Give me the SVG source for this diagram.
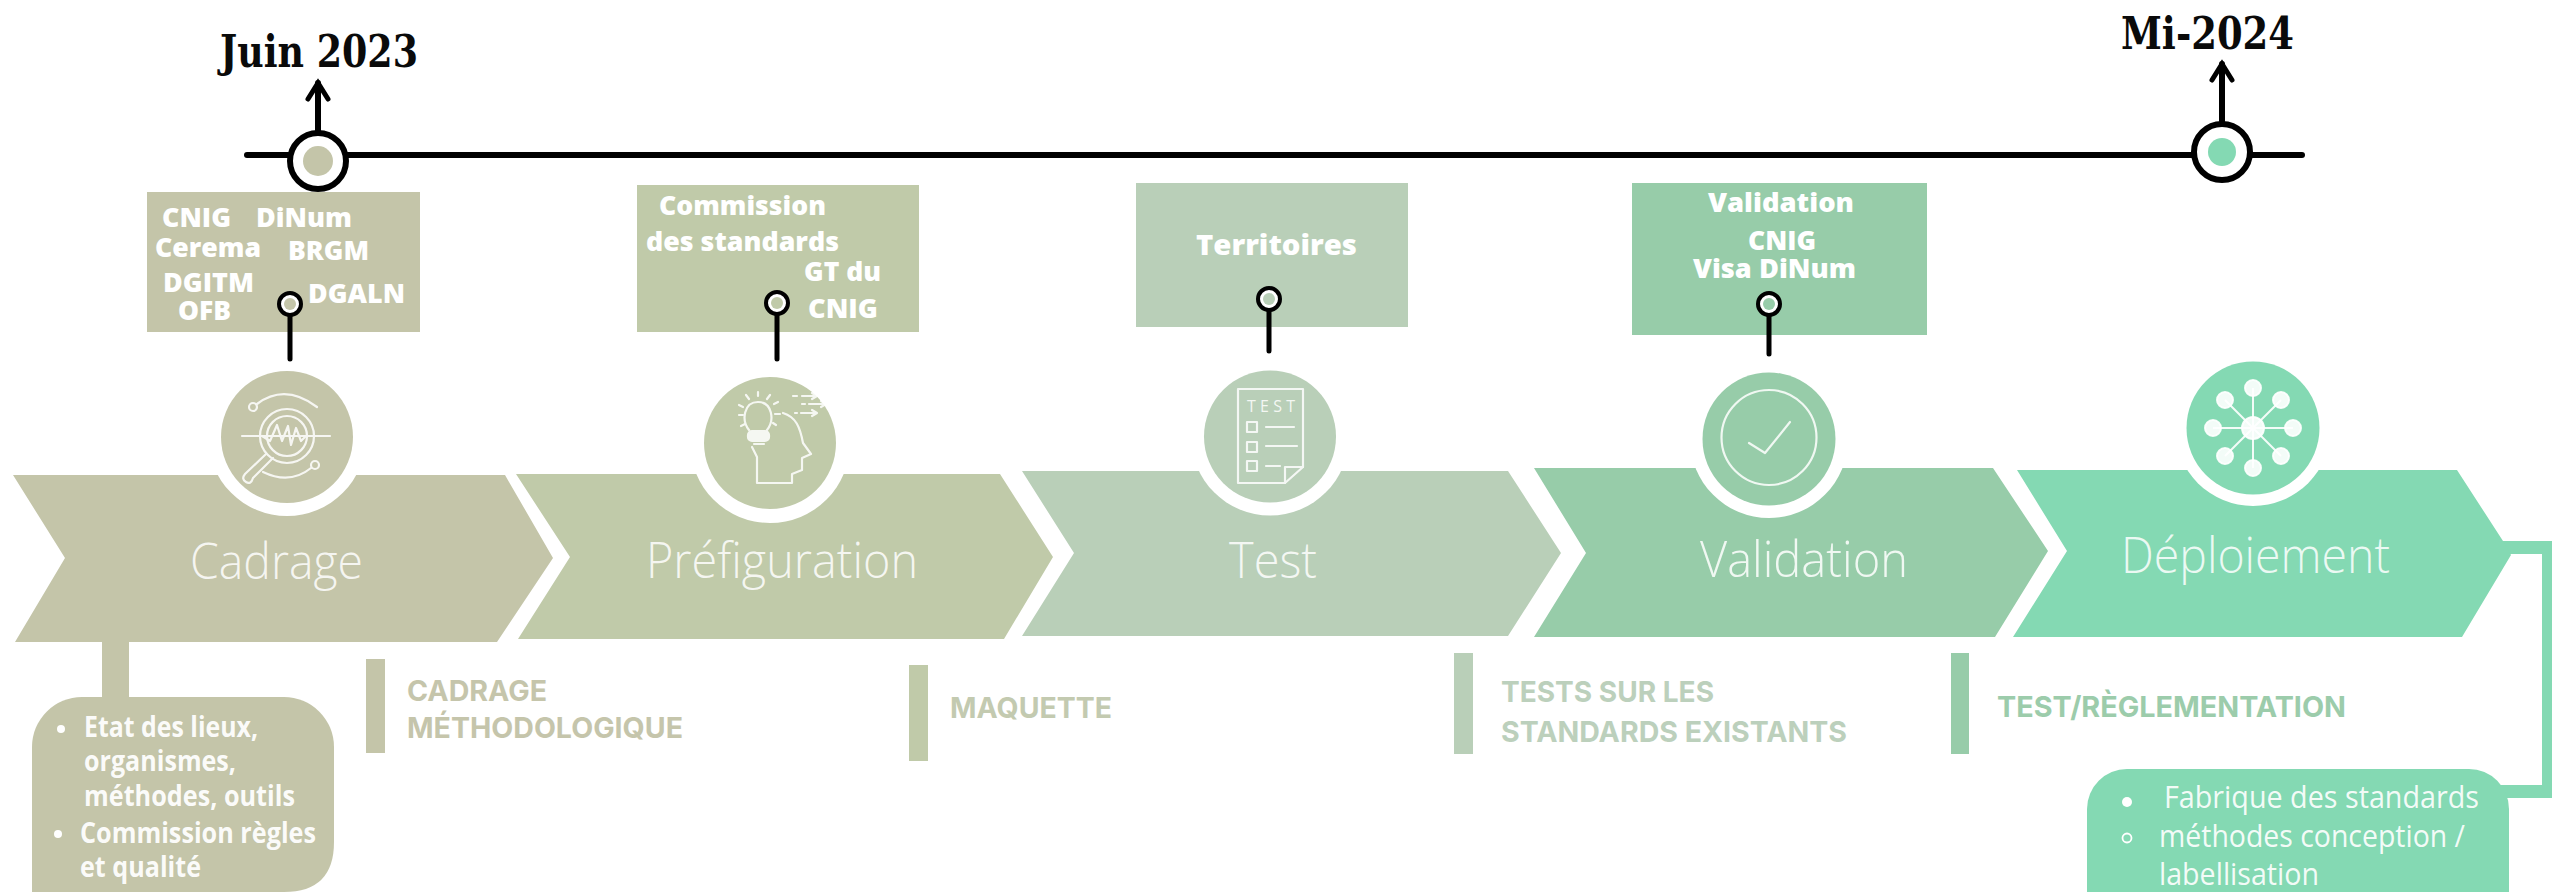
<svg xmlns="http://www.w3.org/2000/svg" width="2552" height="892" viewBox="0 0 2552 892">
<style>
.c1{fill:#C4C5A9}.c2{fill:#C0CAA9}.c3{fill:#B9CFB8}.c4{fill:#97CCA9}.c5{fill:#84D9B3}
.ring{fill:#fff}
.bk{fill:none;stroke:#000;stroke-linecap:round}
.tl{stroke-width:6}
.dr{stroke-width:5}
.pin{fill:#fff;stroke:#000;stroke-width:4}
.big{fill:#fff;stroke:#000;stroke-width:6}
.ln{fill:none;stroke:#fff;stroke-width:2.2;stroke-linecap:round;stroke-linejoin:round;opacity:.85}
text{font-family:"Open Sans","Liberation Sans",sans-serif}
.date{font-family:"DejaVu Serif","Liberation Serif",serif;font-weight:700;font-size:44px;fill:#0a0a0a}
.who{font-weight:800;font-size:27px;fill:#fff}
.step{font-weight:300;font-size:49px;fill:#fff;fill-opacity:.85}
.li{font-weight:700;font-size:28px;fill:#fff;fill-opacity:.95}
.li5{font-weight:400;font-size:31px;fill:#fff;fill-opacity:.92}
.out{font-family:Inter,"Liberation Sans",sans-serif;font-weight:700;font-size:29px}
.t1{fill:#C5C5AB}.t2{fill:#C3CAB0}.t3{fill:#BCD0BC}.t4{fill:#9CCCAB}
</style>
<defs>
<marker id="up" markerUnits="userSpaceOnUse" markerWidth="28" markerHeight="28" refX="22" refY="14" orient="auto" viewBox="0 0 28 28">
<path d="M6 4 22 14 6 24" fill="none" stroke="#000" stroke-width="5" stroke-linecap="round" stroke-linejoin="miter"/>
</marker>
</defs>
<rect width="2552" height="892" fill="#fff"/>

<g id="connectors">
<path class="c1" d="M102 640h27v60h-27z"/>
<path class="c5" d="M2500 541H2552V798H2490V785H2542V554H2500z"/>
<path class="bk tl" d="M247 155H2302"/>
<path class="bk tl" d="M318 130V83" marker-end="url(#up)"/>
<path class="bk tl" d="M2222 121V64" marker-end="url(#up)"/>
</g>

<g id="milestone-juin-2023">
<circle class="big" cx="318" cy="161" r="28"/>
<circle class="c1" cx="318" cy="161" r="15"/>
<text class="date" x="220" y="67" textLength="198" lengthAdjust="spacingAndGlyphs">Juin 2023</text>
</g>
<g id="milestone-mi-2024">
<circle class="big" cx="2222" cy="152" r="28"/>
<circle class="c5" cx="2222" cy="152" r="14"/>
<text class="date" x="2121" y="49" textLength="173" lengthAdjust="spacingAndGlyphs">Mi-2024</text>
</g>

<g id="step-cadrage">
<path class="c1" d="M13 475H505L553 558 497 642H15L65 558z"/>
<circle class="ring" cx="287" cy="437" r="79"/>
<circle class="c1" cx="287" cy="437" r="66"/>
<g class="ln">
<circle cx="253" cy="407" r="4"/><path d="M257 404Q285 383 317 407"/>
<circle cx="315" cy="465" r="4"/><path d="M311 468Q290 485 263 472"/>
<circle cx="287" cy="436" r="27"/><circle cx="287" cy="436" r="20"/>
<path d="M242 436H330"/>
<path d="M262 436 270 441 277 425 282 441 288 426 291 445 296 428 301 441 306 436"/>
<path d="M266 454 245 474Q241 479 246 482T253 478L273 458"/>
</g>
<text class="step" x="190" y="579" textLength="173" lengthAdjust="spacingAndGlyphs">Cadrage</text>
</g>

<g id="step-prefiguration">
<path class="c2" d="M516 474H1000L1053 557 1004 639H518L570 557z"/>
<circle class="ring" cx="770" cy="443" r="80"/>
<circle class="c2" cx="770" cy="443" r="66"/>
<g class="ln">
<path d="M749 430C741 420 744 402 758 402S775 420 767 430"/>
<rect x="748" y="431" width="21" height="10" rx="4" fill="#fff"/>
<path d="M754 444H764"/>
<path d="M758 392V396M746 395 749 399M770 395 767 399M739 405 743 407M739 415H743M741 426 745 424M775 414H780M776 425 773 423M774 404 778 402"/>
<path d="M783 413C796 417 800 427 803 443L811 454 802 458V470L792 474V483H757V457L752 447"/>
<path d="M793 396H797M802 396H816M812 393 817 396 812 399M802 404H805M809 404H826M821 401 826 404 821 407M795 413H797M801 413H816M812 410 817 413 812 416"/>
</g>
<text class="step" x="646" y="578" textLength="272" lengthAdjust="spacingAndGlyphs">Préfiguration</text>
</g>

<g id="step-test">
<path class="c3" d="M1022 471H1508L1561 553 1508 636H1022L1074 553z"/>
<circle class="ring" cx="1270" cy="436.500" r="79"/>
<circle class="c3" cx="1270" cy="436.500" r="66"/>
<g class="ln">
<path d="M1238 389H1303V467L1285 483H1238z"/>
<path d="M1303 467H1285V483"/>
<rect x="1247" y="422" width="10" height="10"/><rect x="1247" y="442" width="10" height="10"/><rect x="1247" y="461" width="10" height="10"/>
<path d="M1266 427H1294M1266 446H1297M1266 466H1280"/>
</g>
<text x="1247" y="412" font-size="16" fill="#fff" fill-opacity=".85" textLength="48">TEST</text>
<text class="step" x="1229" y="578" textLength="88" lengthAdjust="spacingAndGlyphs">Test</text>
</g>

<g id="step-validation">
<path class="c4" d="M1534 468H1993L2048 551 1995 637H1534L1586 553z"/>
<circle class="ring" cx="1769" cy="439" r="79"/>
<circle class="c4" cx="1769" cy="439" r="66.500"/>
<circle class="ln" cx="1769" cy="437.500" r="47.500"/>
<path class="ln" d="M1749 443 1765 453 1790 422"/>
<text class="step" x="1700" y="577" textLength="208" lengthAdjust="spacingAndGlyphs">Validation</text>
</g>

<g id="step-deploiement">
<path class="c5" d="M2017 470H2457L2503 541 2511 555 2462 637H2013L2067 551z"/>
<circle class="ring" cx="2253" cy="428" r="78"/>
<circle class="c5" cx="2253" cy="428" r="66.500"/>
<g fill="#fff" fill-opacity=".9" stroke="#fff" stroke-opacity=".9" stroke-width="2">
<path d="M2253 388V468M2213 428H2293M2225 400 2281 456M2225 456 2281 400"/>
<circle cx="2253" cy="388" r="8"/><circle cx="2253" cy="468" r="8"/><circle cx="2213" cy="428" r="8"/><circle cx="2293" cy="428" r="8"/>
<circle cx="2225" cy="400" r="8"/><circle cx="2281" cy="400" r="8"/><circle cx="2225" cy="456" r="8"/><circle cx="2281" cy="456" r="8"/>
<circle cx="2253" cy="428" r="11"/>
</g>
<text class="step" x="2121" y="573" textLength="269" lengthAdjust="spacingAndGlyphs">Déploiement</text>
</g>

<g id="actors-cadrage">
<rect class="c1" x="147" y="192" width="273" height="140"/>
<text class="who" x="162" y="227" textLength="69" lengthAdjust="spacingAndGlyphs">CNIG</text>
<text class="who" x="256" y="227" textLength="96" lengthAdjust="spacingAndGlyphs">DiNum</text>
<text class="who" x="155" y="257" textLength="106" lengthAdjust="spacingAndGlyphs">Cerema</text>
<text class="who" x="288" y="260" textLength="81" lengthAdjust="spacingAndGlyphs">BRGM</text>
<text class="who" x="163" y="292" textLength="91" lengthAdjust="spacingAndGlyphs">DGITM</text>
<text class="who" x="178" y="320" textLength="53" lengthAdjust="spacingAndGlyphs">OFB</text>
<text class="who" x="308" y="303" textLength="97" lengthAdjust="spacingAndGlyphs">DGALN</text>
<path class="bk dr" d="M290 316V359"/>
<circle class="pin" cx="290" cy="304" r="11"/><circle class="c1" cx="290" cy="304" r="6"/>
</g>

<g id="actors-prefiguration">
<rect class="c2" x="637" y="185" width="282" height="147"/>
<text class="who" x="659" y="215" textLength="167" lengthAdjust="spacingAndGlyphs">Commission</text>
<text class="who" x="646" y="251" textLength="193" lengthAdjust="spacingAndGlyphs">des standards</text>
<text class="who" x="804" y="281" textLength="77" lengthAdjust="spacingAndGlyphs">GT du</text>
<text class="who" x="808" y="318" textLength="70" lengthAdjust="spacingAndGlyphs">CNIG</text>
<path class="bk dr" d="M777 315V359"/>
<circle class="pin" cx="777" cy="303" r="11"/><circle class="c2" cx="777" cy="303" r="6"/>
</g>

<g id="actors-test">
<rect class="c3" x="1136" y="183" width="272" height="144"/>
<text class="who" x="1196" y="255" font-size="28" style="font-size:28px" textLength="161" lengthAdjust="spacingAndGlyphs">Territoires</text>
<path class="bk dr" d="M1269 311V351"/>
<circle class="pin" cx="1269" cy="299" r="11"/><circle class="c3" cx="1269" cy="299" r="6"/>
</g>

<g id="actors-validation">
<rect class="c4" x="1632" y="183" width="295" height="152"/>
<text class="who" x="1708" y="212" textLength="146" lengthAdjust="spacingAndGlyphs">Validation</text>
<text class="who" x="1748" y="250" textLength="68" lengthAdjust="spacingAndGlyphs">CNIG</text>
<text class="who" x="1693" y="278" textLength="163" lengthAdjust="spacingAndGlyphs">Visa DiNum</text>
<path class="bk dr" d="M1769 316V354"/>
<circle class="pin" cx="1769" cy="304" r="11"/><circle class="c4" cx="1769" cy="304" r="6"/>
</g>

<g id="output-cadrage">
<rect class="c1" x="366" y="659" width="19" height="94"/>
<text class="out t1" x="407" y="701" textLength="140" lengthAdjust="spacingAndGlyphs">CADRAGE</text>
<text class="out t1" x="407" y="738" textLength="276" lengthAdjust="spacingAndGlyphs">MÉTHODOLOGIQUE</text>
</g>
<g id="output-maquette">
<rect class="c2" x="909" y="665" width="19" height="96"/>
<text class="out t2" x="950" y="718" textLength="162" lengthAdjust="spacingAndGlyphs">MAQUETTE</text>
</g>
<g id="output-tests">
<rect class="c3" x="1454" y="653" width="19" height="101"/>
<text class="out t3" x="1501" y="702" textLength="213" lengthAdjust="spacingAndGlyphs">TESTS SUR LES</text>
<text class="out t3" x="1501" y="742" textLength="346" lengthAdjust="spacingAndGlyphs">STANDARDS EXISTANTS</text>
</g>
<g id="output-reglementation">
<rect class="c4" x="1951" y="653" width="18" height="101"/>
<text class="out t4" x="1997" y="717" textLength="349" lengthAdjust="spacingAndGlyphs">TEST/RÈGLEMENTATION</text>
</g>

<g id="note-cadrage">
<path class="c1" d="M32 892V747A50 50 0 0 1 82 697H284A50 50 0 0 1 334 747V842Q334 892 284 892z"/>
<circle cx="61" cy="729" r="4" fill="#fff"/>
<circle cx="58" cy="834" r="4" fill="#fff"/>
<text class="li" x="84" y="737" textLength="174" lengthAdjust="spacingAndGlyphs">Etat des lieux,</text>
<text class="li" x="84" y="771" textLength="152" lengthAdjust="spacingAndGlyphs">organismes,</text>
<text class="li" x="84" y="806" textLength="211" lengthAdjust="spacingAndGlyphs">méthodes, outils</text>
<text class="li" x="80" y="843" textLength="236" lengthAdjust="spacingAndGlyphs">Commission règles</text>
<text class="li" x="80" y="877" textLength="121" lengthAdjust="spacingAndGlyphs">et qualité</text>
</g>

<g id="note-deploiement">
<path class="c5" d="M2087 892V809A40 40 0 0 1 2127 769H2469A40 40 0 0 1 2509 809V892z"/>
<circle cx="2127" cy="802" r="5" fill="#fff"/>
<circle cx="2127" cy="838" r="4.500" fill="none" stroke="#fff" stroke-width="1.800"/>
<text class="li5" x="2164" y="808" textLength="315" lengthAdjust="spacingAndGlyphs">Fabrique des standards</text>
<text class="li5" x="2159" y="847" textLength="306" lengthAdjust="spacingAndGlyphs">méthodes conception /</text>
<text class="li5" x="2159" y="885" textLength="160" lengthAdjust="spacingAndGlyphs">labellisation</text>
</g>
</svg>
